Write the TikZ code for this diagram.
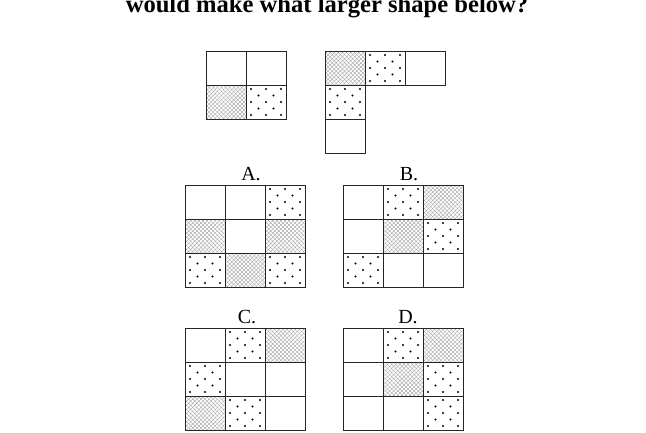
\documentclass[tikz,border=0pt]{standalone}
\usepackage{fontspec}
\setmainfont{Liberation Serif}
\usetikzlibrary{patterns.meta}

% one square of the puzzle, top left corner at (#1,#2)
\newcommand\plaincell[2]{\draw[cell] (#1,#2) rectangle ++(40,34);}
\newcommand\dotcell[2]{%
  \foreach \dy in {4,17,30} \foreach \dx in {5,20,35} \fill (#1+\dx,#2+\dy) circle (1.15pt);
  \foreach \dy in {10.5,23.5} \foreach \dx in {12.5,27.5} \fill (#1+\dx,#2+\dy) circle (1.15pt);
  \draw[cell] (#1,#2) rectangle ++(40,34);}
\newcommand\hatchcell[2]{%
  \fill[hatch=45] (#1,#2) rectangle ++(40,34);
  \fill[hatch=-45] (#1,#2) rectangle ++(40,34);
  \draw[cell] (#1,#2) rectangle ++(40,34);}

\begin{document}
\begin{tikzpicture}[x=1pt, y=-1pt,
  cell/.style={draw=black!85, line width=0.8pt},
  hatch/.style={pattern={Lines[angle=#1,distance=2.9pt,line width=0.35pt]}, pattern color=black!38},
  lbl/.style={anchor=base, font=\fontsize{20}{22}\selectfont, inner sep=0pt}]
\useasboundingbox (0,0) rectangle (646,432);
\fill[white] (0,0) rectangle (646,432);
\clip (0,0) rectangle (646,432);
\node[anchor=base, font=\bfseries\fontsize{24.6}{28}\selectfont, inner sep=0pt] (title) at (327,12.5) {would make what larger shape below?};
% the two pieces
\plaincell{206}{51} \plaincell{246}{51} \hatchcell{206}{85} \dotcell{246}{85}
\hatchcell{325}{51} \dotcell{365}{51} \plaincell{405}{51}
\dotcell{325}{85} \plaincell{325}{119}
% A
\node[lbl] (la) at (251,180) {A.};
\plaincell{185}{185} \plaincell{225}{185} \dotcell{265}{185}
\hatchcell{185}{219} \plaincell{225}{219} \hatchcell{265}{219}
\dotcell{185}{253} \hatchcell{225}{253} \dotcell{265}{253}
% B
\node[lbl] (lb) at (409,180) {B.};
\plaincell{343}{185} \dotcell{383}{185} \hatchcell{423}{185}
\plaincell{343}{219} \hatchcell{383}{219} \dotcell{423}{219}
\dotcell{343}{253} \plaincell{383}{253} \plaincell{423}{253}
% C
\node[lbl] (lc) at (247,323) {C.};
\plaincell{185}{328} \dotcell{225}{328} \hatchcell{265}{328}
\dotcell{185}{362} \plaincell{225}{362} \plaincell{265}{362}
\hatchcell{185}{396} \dotcell{225}{396} \plaincell{265}{396}
% D
\node[lbl] (ld) at (408,323) {D.};
\plaincell{343}{328} \dotcell{383}{328} \hatchcell{423}{328}
\plaincell{343}{362} \hatchcell{383}{362} \dotcell{423}{362}
\plaincell{343}{396} \plaincell{383}{396} \dotcell{423}{396}
\end{tikzpicture}
\end{document}
